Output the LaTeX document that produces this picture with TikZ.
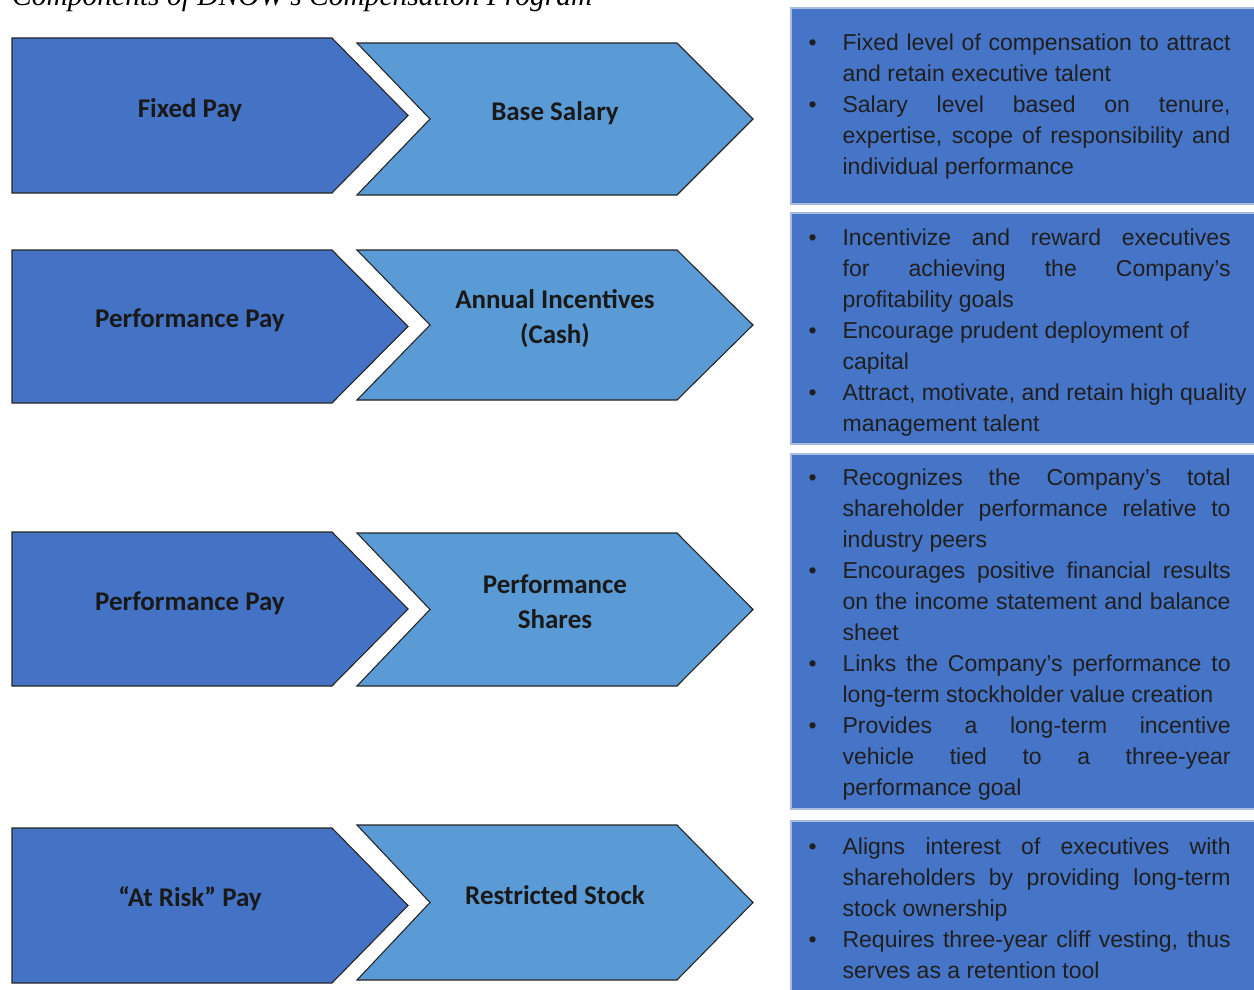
\documentclass[tikz,border=0pt]{standalone}
\usepackage{fontspec}
\setmainfont{Liberation Sans}
\newfontfamily\chevfont{Carlito}
\newfontfamily\capfont{Liberation Serif}
\usetikzlibrary{positioning}
\definecolor{darkblue}{RGB}{68,114,196}
\definecolor{lightblue}{RGB}{91,155,213}
\definecolor{boxblue}{RGB}{70,116,198}
\definecolor{boxedge}{RGB}{168,188,222}
\newcommand{\bulitem}{\par\noindent\llap{\makebox[36pt][l]{\hspace{2pt}\textbullet}}}
\tolerance=10000 \hbadness=10000 \hfuzz=40pt
\hyphenpenalty=10000 \exhyphenpenalty=10000

\begin{document}
\begin{tikzpicture}[x=1pt, y=-1pt,
  darkchev/.style={fill=darkblue, draw=black!85, line width=1.1pt},
  lightchev/.style={fill=lightblue, draw=black!85, line width=1.1pt},
  chevlabel/.style={font=\chevfont\bfseries\fontsize{27}{35}\selectfont, text=black!90, align=center, inner sep=0pt},
  infobox/.style={fill=boxblue, draw=boxedge, line width=1.2pt, minimum width=469pt, inner sep=0pt},
  infotext/.style={font=\fontsize{23}{31}\selectfont, text=black!88, text width=424pt, align=justify, inner sep=0pt}]
  \useasboundingbox (0,0) rectangle (1254,990);
  \fill[white] (0,0) rectangle (1254,990);

  \node[anchor=base west, inner sep=0pt, font=\capfont\itshape\fontsize{29.5}{34}\selectfont] (title) at (12,5.5) {Components of DNOW’s Compensation Program};

  % Row 1: fixed pay
  \draw[darkchev] (12,38) -- (332,38) -- (408,115.5) -- (332,193) -- (12,193) -- cycle;
  \draw[lightchev] (357,43) -- (677,43) -- (753,119) -- (677,195) -- (357,195) -- (430,119) -- cycle;
  \node[chevlabel] (fixed) at (190,110.5) {Fixed Pay};
  \node[chevlabel] (salary) at (555,113) {Base Salary};
  \node[infobox, minimum height=196pt] (box1) at (1025.5,106) {};
  \node[infotext, right=16pt of box1.west, yshift=7pt] (txt1) {%
    \leftskip=36pt
    \bulitem Fixed level of compensation to attract\linebreak and retain executive talent
    \bulitem Salary level based on tenure,\linebreak expertise, scope of responsibility and\linebreak individual performance\par};

  % Row 2: annual incentives
  \draw[darkchev] (12,250) -- (332,250) -- (408,326.5) -- (332,403) -- (12,403) -- cycle;
  \draw[lightchev] (357,250) -- (677,250) -- (753,325) -- (677,400) -- (357,400) -- (430,325) -- cycle;
  \node[chevlabel] (perf1) at (190,320) {Performance Pay};
  \node[chevlabel] (annual) at (555,318.5) {Annual Incentives\\(Cash)};
  \node[infobox, minimum height=231pt] (box2) at (1025.5,328.5) {};
  \node[infotext, right=16pt of box2.west, yshift=3pt] (txt2) {%
    \leftskip=36pt
    \bulitem Incentivize and reward executives\linebreak for achieving the Company’s\linebreak profitability goals
    \bulitem Encourage prudent deployment of\newline capital
    \bulitem \mbox{Attract, motivate, and retain high quality}\newline management talent\par};

  % Row 3: performance shares
  \draw[darkchev] (12,532) -- (332,532) -- (408,609) -- (332,686) -- (12,686) -- cycle;
  \draw[lightchev] (357,533) -- (677,533) -- (753,609.5) -- (677,686) -- (357,686) -- (430,609.5) -- cycle;
  \node[chevlabel] (perf2) at (190,603) {Performance Pay};
  \node[chevlabel] (shares) at (555,602) {Performance\\Shares};
  \node[infobox, minimum height=355pt] (box3) at (1025.5,631.5) {};
  \node[infotext, right=16pt of box3.west, yshift=4.5pt] (txt3) {%
    \leftskip=36pt
    \bulitem Recognizes the Company’s total\linebreak shareholder performance relative to\linebreak industry peers
    \bulitem Encourages positive financial results\linebreak on the income statement and balance\linebreak sheet
    \bulitem Links the Company’s performance to\linebreak long-term stockholder value creation
    \bulitem Provides a long-term incentive\linebreak vehicle tied to a three-year\linebreak performance goal\par};

  % Row 4: restricted stock
  \draw[darkchev] (12,828) -- (332,828) -- (408,905.5) -- (332,983) -- (12,983) -- cycle;
  \draw[lightchev] (357,825) -- (677,825) -- (753,902.5) -- (677,980) -- (357,980) -- (430,902.5) -- cycle;
  \node[chevlabel] (risk) at (190,899) {“At Risk” Pay};
  \node[chevlabel] (stock) at (555,894.7) {Restricted Stock};
  \node[infobox, minimum height=175pt] (box4) at (1025.5,908.5) {};
  \node[infotext, right=16pt of box4.west, yshift=7.5pt] (txt4) {%
    \leftskip=36pt
    \bulitem Aligns interest of executives with\linebreak shareholders by providing long-term\linebreak stock ownership
    \bulitem Requires three-year cliff vesting, thus\linebreak serves as a retention tool\par};
\end{tikzpicture}
\end{document}
